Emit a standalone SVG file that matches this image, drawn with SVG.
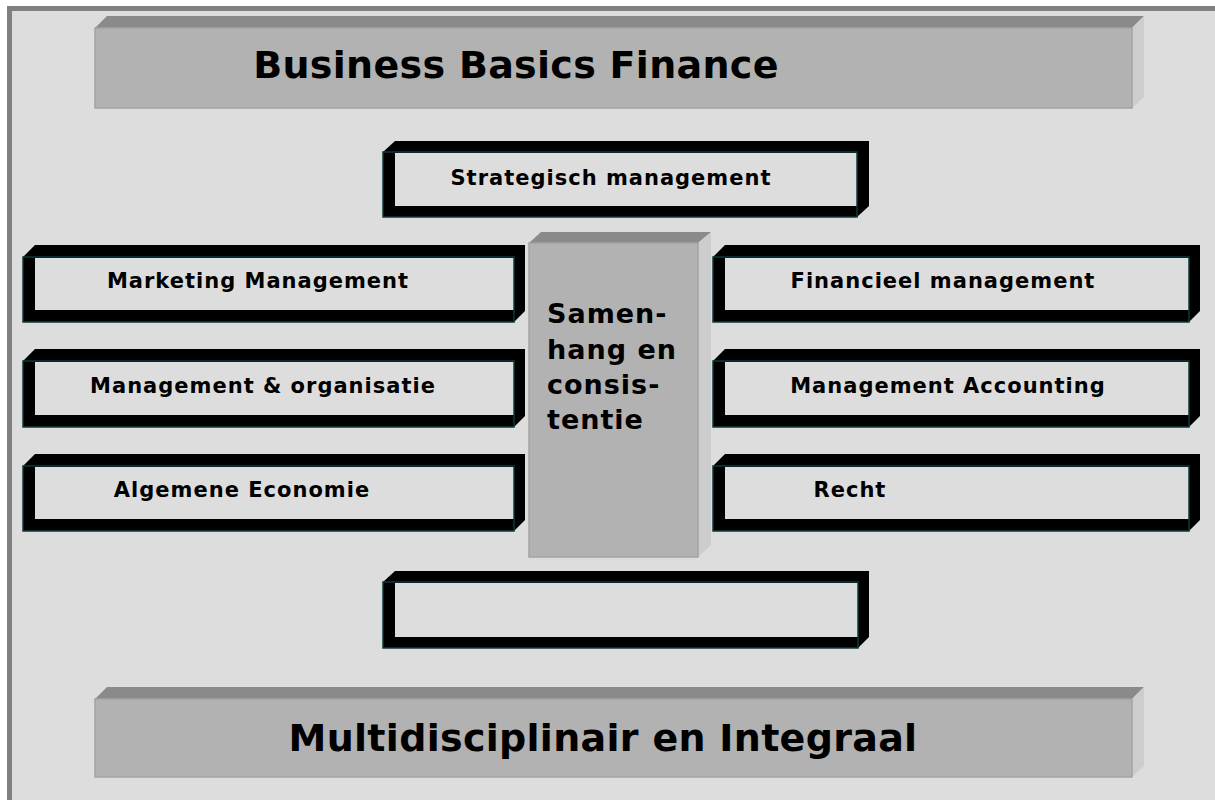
<svg xmlns="http://www.w3.org/2000/svg" width="1215" height="800" viewBox="0 0 1215 800">
<style>
.t{font-family:"DejaVu Sans",Verdana,sans-serif;font-weight:bold;fill:#000}
.lbl{font-size:21px;letter-spacing:1px;text-anchor:middle}
.big{font-size:38px;letter-spacing:0.3px;text-anchor:middle}
.mid{font-size:27px;letter-spacing:1px}
.top{fill:#8a8a8a}
.front{fill:#b2b2b2;stroke:#a3a3a3;stroke-width:1.5}
.side{fill:#cdcdcd}
.blk{fill:#000}
.inner{fill:#dddddd}
.edge{fill:none;stroke:#0e3a3a;stroke-width:1.5}
</style>
<rect x="0" y="0" width="1215" height="800" fill="#ffffff"/>
<rect x="7" y="6" width="1208" height="794" fill="#808080"/>
<rect x="12" y="11" width="1203" height="789" fill="#dddddd"/>

<g id="title-top">
<polygon class="top" points="95,28 107,16 1144,16 1132,28"/>
<polygon class="side" points="1132,28 1144,16 1144,97 1132,108"/>
<rect class="front" x="95" y="28" width="1037" height="80"/>
<text class="t big" x="516" y="78">Business Basics Finance</text>
</g>

<g id="strategisch">
<polygon class="blk" points="383,152 395,141 869,141 869,206 857,217 383,217"/>
<rect class="inner" x="395" y="153" width="462" height="53"/>
<rect class="edge" x="383" y="152" width="474" height="65"/>
<text class="t lbl" x="611" y="185">Strategisch management</text>
</g>

<g id="marketing">
<polygon class="blk" points="23,257 35,245 525,245 525,311 514,322 23,322"/>
<rect class="inner" x="35" y="258" width="479" height="52"/>
<rect class="edge" x="23" y="257" width="491" height="65"/>
<text class="t lbl" x="258" y="288">Marketing Management</text>
</g>

<g id="management-organisatie">
<polygon class="blk" points="23,361 35,349 525,349 525,416 514,427 23,427"/>
<rect class="inner" x="35" y="362" width="479" height="53"/>
<rect class="edge" x="23" y="361" width="491" height="66"/>
<text class="t lbl" x="263" y="393">Management &amp; organisatie</text>
</g>

<g id="algemene-economie">
<polygon class="blk" points="23,466 35,454 525,454 525,520 514,531 23,531"/>
<rect class="inner" x="35" y="467" width="479" height="52"/>
<rect class="edge" x="23" y="466" width="491" height="65"/>
<text class="t lbl" x="242" y="497">Algemene Economie</text>
</g>

<g id="financieel">
<polygon class="blk" points="713,257 725,245 1200,245 1200,311 1189,322 713,322"/>
<rect class="inner" x="725" y="258" width="464" height="52"/>
<rect class="edge" x="713" y="257" width="476" height="65"/>
<text class="t lbl" x="943" y="288">Financieel management</text>
</g>

<g id="management-accounting">
<polygon class="blk" points="713,361 725,349 1200,349 1200,416 1189,427 713,427"/>
<rect class="inner" x="725" y="362" width="464" height="53"/>
<rect class="edge" x="713" y="361" width="476" height="66"/>
<text class="t lbl" x="948" y="393">Management Accounting</text>
</g>

<g id="recht">
<polygon class="blk" points="713,466 725,454 1200,454 1200,520 1189,531 713,531"/>
<rect class="inner" x="725" y="467" width="464" height="52"/>
<rect class="edge" x="713" y="466" width="476" height="65"/>
<text class="t lbl" x="850" y="497">Recht</text>
</g>

<g id="samenhang">
<polygon class="top" points="529,243 541,232 711,232 698,243"/>
<polygon class="side" points="698,243 711,232 711,545 698,557"/>
<rect class="front" x="529" y="243" width="169" height="314"/>
<text class="t mid" x="547" y="323">Samen-</text>
<text class="t mid" x="547" y="359">hang en</text>
<text class="t mid" x="547" y="394">consis-</text>
<text class="t mid" x="547" y="429">tentie</text>
</g>

<g id="empty-box">
<polygon class="blk" points="383,582 395,571 869,571 869,637 858,648 383,648"/>
<rect class="inner" x="395" y="583" width="463" height="54"/>
<rect class="edge" x="383" y="582" width="475" height="66"/>
</g>

<g id="title-bottom">
<polygon class="top" points="95,699 107,687 1144,687 1132,699"/>
<polygon class="side" points="1132,699 1144,687 1144,766 1132,777"/>
<rect class="front" x="95" y="699" width="1037" height="78"/>
<text class="t big" x="603" y="751">Multidisciplinair en Integraal</text>
</g>

<g id="connectors"></g>
</svg>
